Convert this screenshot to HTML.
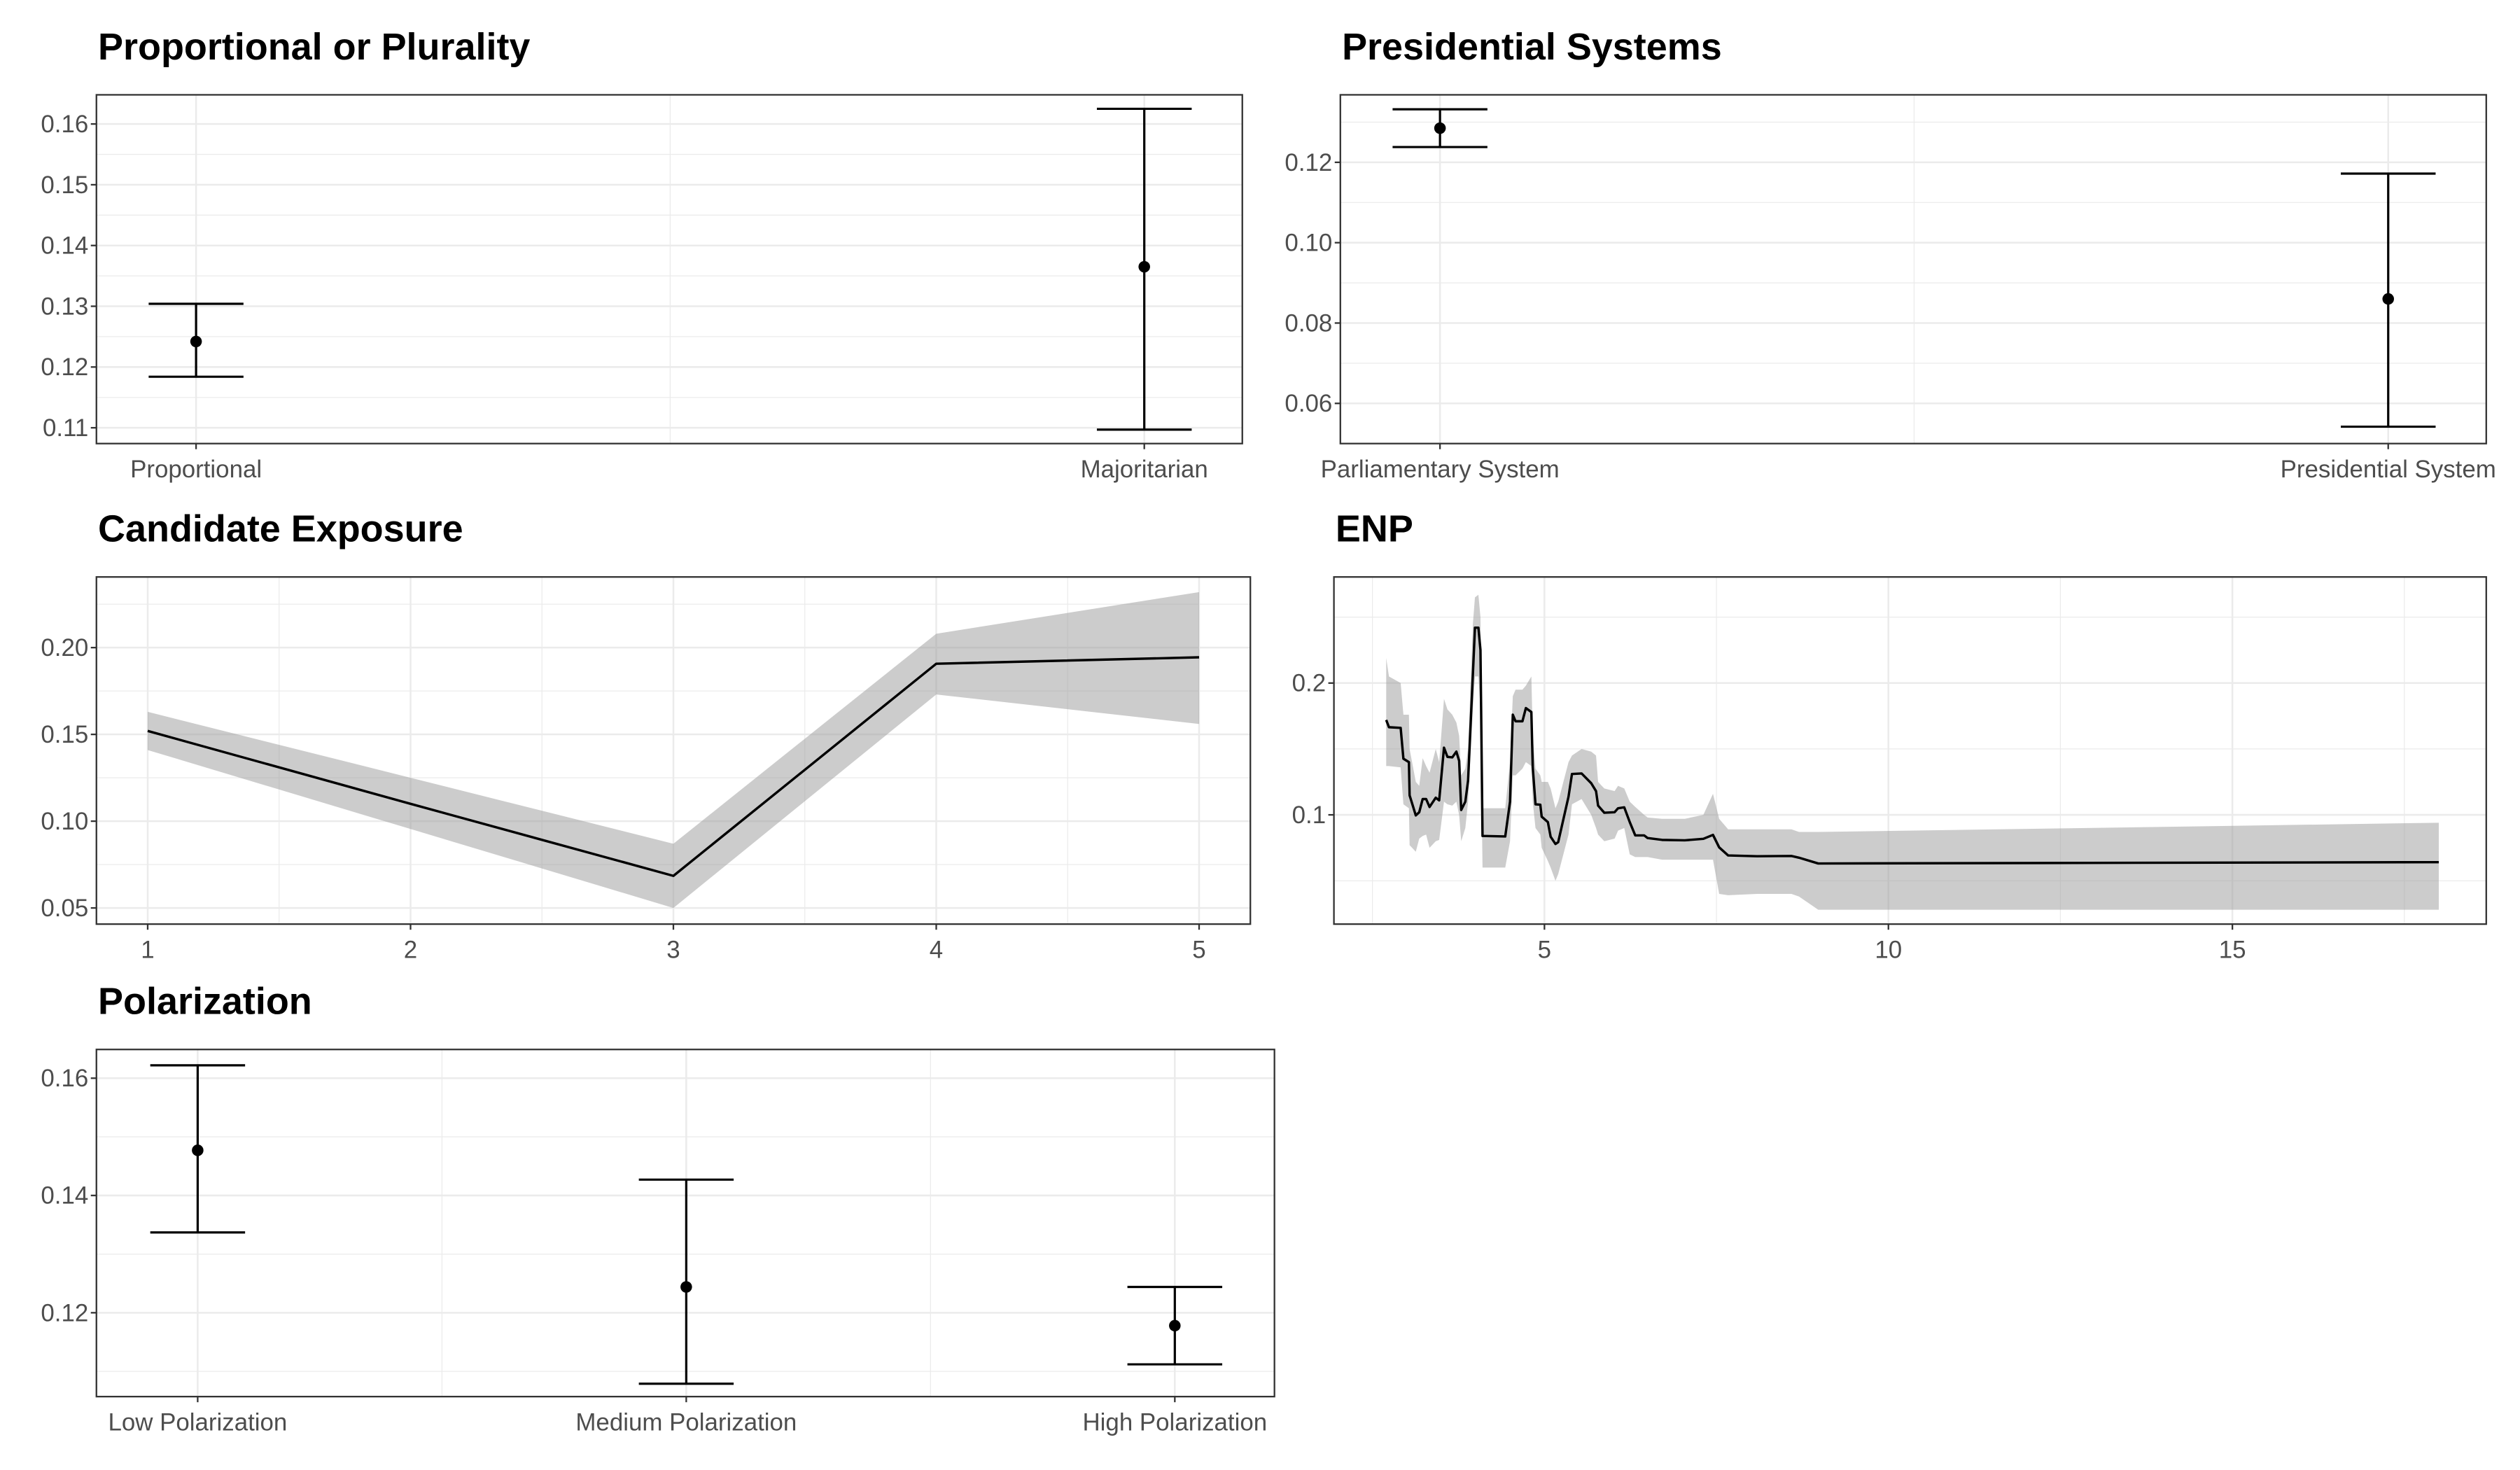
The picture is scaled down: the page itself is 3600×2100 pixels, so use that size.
<!DOCTYPE html>
<html><head><meta charset="utf-8"><style>
html,body{margin:0;padding:0;background:#fff;}
svg{display:block;}
text{font-family:"Liberation Sans",sans-serif;}
</style></head><body>
<svg id="chart" xmlns="http://www.w3.org/2000/svg" width="3600" height="2100" viewBox="0 0 1568 914.67" preserveAspectRatio="none">
<rect x="0" y="0" width="1568" height="914.67" fill="#fff"/>
</svg>
<script>
// ---- data ----
const propCats = ["Proportional", "Majoritarian"];
const propEst = [0.1242, 0.1365];
const propLo = [0.1184, 0.1097];
const propHi = [0.1304, 0.1625];
const propTicks = [0.11, 0.12, 0.13, 0.14, 0.15, 0.16];

const presCats = ["Parliamentary System", "Presidential System"];
const presEst = [0.1285, 0.0860];
const presLo = [0.1238, 0.0542];
const presHi = [0.1332, 0.1172];
const presTicks = [0.06, 0.08, 0.10, 0.12];

const candX = [1, 2, 3, 4, 5];
const candEst = [0.152, 0.110, 0.0685, 0.1907, 0.1944];
const candLo = [0.141, 0.0955, 0.050, 0.173, 0.156];
const candHi = [0.163, 0.125, 0.087, 0.208, 0.232];
const candXTicks = [1, 2, 3, 4, 5];
const candYTicks = [0.05, 0.10, 0.15, 0.20];

const enpX = [2.70,2.74,2.91,2.95,3.03,3.04,3.13,3.18,3.23,3.28,3.33,3.42,3.47,3.54,3.59,3.66,3.72,3.76,3.79,3.85,3.89,3.96,3.99,4.04,4.07,4.10,4.43,4.50,4.54,4.58,4.68,4.73,4.81,4.83,4.87,4.94,4.96,5.05,5.09,5.16,5.20,5.35,5.40,5.54,5.68,5.75,5.78,5.87,6.02,6.07,6.16,6.24,6.32,6.45,6.50,6.71,7.04,7.31,7.45,7.54,7.67,8.09,8.59,8.70,8.98,18.0];
const enpEst = [0.172,0.1665,0.166,0.1426,0.140,0.1148,0.0996,0.102,0.112,0.112,0.106,0.113,0.111,0.151,0.144,0.1436,0.148,0.141,0.1037,0.110,0.126,0.207,0.242,0.242,0.225,0.084,0.0836,0.110,0.176,0.171,0.171,0.181,0.178,0.136,0.108,0.1077,0.0986,0.0945,0.0834,0.0779,0.0793,0.1138,0.131,0.1314,0.124,0.118,0.107,0.1016,0.102,0.105,0.1057,0.0945,0.0844,0.0844,0.0824,0.081,0.0807,0.0818,0.0848,0.0753,0.0692,0.0686,0.0688,0.0675,0.0631,0.0641];
const enpLo = [0.137,0.137,0.136,0.108,0.105,0.077,0.072,0.082,0.084,0.085,0.075,0.080,0.081,0.110,0.108,0.107,0.110,0.100,0.080,0.090,0.110,0.180,0.205,0.205,0.180,0.060,0.060,0.080,0.130,0.130,0.135,0.140,0.137,0.110,0.090,0.085,0.075,0.065,0.060,0.050,0.055,0.085,0.108,0.112,0.100,0.090,0.085,0.080,0.082,0.088,0.090,0.070,0.068,0.068,0.068,0.066,0.066,0.066,0.066,0.040,0.039,0.040,0.040,0.038,0.028,0.028];
const enpHi = [0.219,0.205,0.200,0.176,0.176,0.150,0.125,0.122,0.143,0.137,0.132,0.150,0.140,0.188,0.180,0.176,0.170,0.160,0.130,0.135,0.150,0.245,0.265,0.267,0.250,0.105,0.105,0.140,0.190,0.195,0.195,0.198,0.205,0.160,0.135,0.130,0.125,0.125,0.120,0.105,0.110,0.140,0.145,0.150,0.148,0.145,0.125,0.120,0.118,0.122,0.120,0.110,0.106,0.100,0.098,0.097,0.097,0.100,0.116,0.097,0.089,0.089,0.089,0.087,0.087,0.094];
const enpXTicks = [5, 10, 15];
const enpYTicks = [0.1, 0.2];

const polCats = ["Low Polarization", "Medium Polarization", "High Polarization"];
const polEst = [0.1477, 0.1244, 0.1178];
const polLo = [0.1337, 0.1079, 0.1112];
const polHi = [0.1622, 0.1427, 0.1244];
const polTicks = [0.12, 0.14, 0.16];

// ---- drawing ----
const svg = document.getElementById('chart');
const NS = 'http://www.w3.org/2000/svg';
const TICK_FS = 15.2;
function mk(tag, attrs, parent) {
  const e = document.createElementNS(NS, tag);
  for (const k in attrs) e.setAttribute(k, attrs[k]);
  (parent || svg).appendChild(e);
  return e;
}
function scale(d0, d1, r0, r1) { return v => r0 + (v - d0) / (d1 - d0) * (r1 - r0); }

function panel(name, title, box, ydom, xdom) {
  const g = mk('g', {});
  
  
  const t = mk('text', {x: box.x0 + 1, y: box.y0 - 22, 'font-size': 23.5, 'font-weight': 'bold', fill: '#000'}, g);
  t.textContent = title;
  
  
  const bg = mk('rect', {x: box.x0, y: box.y0, width: box.x1 - box.x0, height: box.y1 - box.y0, fill: '#fff'}, g);
  
  
  const y = scale(ydom[0], ydom[1], box.y1, box.y0);
  const x = scale(xdom[0], xdom[1], box.x0, box.x1);
  return {g, x, y, box};
}
function hgrid(p, v, major) {
  const yy = p.y(v);
  const l = mk('line', {x1: p.box.x0, x2: p.box.x1, y1: yy, y2: yy, stroke: '#ebebeb', 'stroke-width': major ? 1.1 : 0.55}, p.g);
  
  
}
function vgrid(p, v, major) {
  const xx = p.x(v);
  const l = mk('line', {x1: xx, x2: xx, y1: p.box.y0, y2: p.box.y1, stroke: '#ebebeb', 'stroke-width': major ? 1.1 : 0.55}, p.g);
  
  
}
function ytick(p, v, label) {
  const yy = p.y(v);
  const l = mk('line', {x1: p.box.x0 - 3.5, x2: p.box.x0, y1: yy, y2: yy, stroke: '#333', 'stroke-width': 1}, p.g);
  
  
  const t = mk('text', {x: p.box.x0 - 5, y: yy + 5.2, 'font-size': TICK_FS, fill: '#4d4d4d', 'text-anchor': 'end'}, p.g);
  t.textContent = label;
  
  
}
function xtick(p, v, label) {
  const xx = p.x(v);
  const l = mk('line', {x1: xx, x2: xx, y1: p.box.y1, y2: p.box.y1 + 3.5, stroke: '#333', 'stroke-width': 1}, p.g);
  
  
  const t = mk('text', {x: xx, y: p.box.y1 + 21, 'font-size': TICK_FS, fill: '#4d4d4d', 'text-anchor': 'middle'}, p.g);
  t.textContent = label;
  
  
}
function border(p) {
  const r = mk('rect', {x: p.box.x0, y: p.box.y0, width: p.box.x1 - p.box.x0, height: p.box.y1 - p.box.y0, fill: 'none', stroke: '#333', 'stroke-width': 1}, p.g);
  
  
}
function fmt(v, d) { return v.toFixed(d); }

function catPanel(name, title, box, ydom, cats, est, lo, hi, ticks, dec, minorTicks) {
  const n = cats.length;
  // categories placed between first/last centre pixels box.c0..box.c1
  const unit = (box.c1 - box.c0) / (n - 1);
  const xdom = [1 - (box.c0 - box.x0) / unit, n + (box.x1 - box.c1) / unit];
  const p = panel(name, title, box, ydom, xdom);
  minorTicks.forEach(v => hgrid(p, v, false));
  for (let i = 1; i < n; i++) vgrid(p, i + 0.5, false);
  ticks.forEach(v => hgrid(p, v, true));
  cats.forEach((c, i) => vgrid(p, i + 1, true));
  cats.forEach((c, i) => {
    const xx = p.x(i + 1), hw = 29.5;
    const eg = mk('g', {}, p.g);
    
    
    mk('line', {x1: xx, x2: xx, y1: p.y(lo[i]), y2: p.y(hi[i]), stroke: '#000', 'stroke-width': 1.4}, eg);
    mk('line', {x1: xx - hw, x2: xx + hw, y1: p.y(lo[i]), y2: p.y(lo[i]), stroke: '#000', 'stroke-width': 1.4}, eg);
    mk('line', {x1: xx - hw, x2: xx + hw, y1: p.y(hi[i]), y2: p.y(hi[i]), stroke: '#000', 'stroke-width': 1.4}, eg);
    const pt = mk('circle', {cx: xx, cy: p.y(est[i]), r: 3.6, fill: '#000'}, p.g);
    
    
  });
  border(p);
  ticks.forEach(v => ytick(p, v, fmt(v, dec)));
  cats.forEach((c, i) => xtick(p, i + 1, c));
}

catPanel('proportional', 'Proportional or Plurality', {x0: 60, x1: 773, y0: 59, y1: 276, c0: 122, c1: 712}, [0.1074, 0.1648],
  propCats, propEst, propLo, propHi, propTicks, 2, [0.115, 0.125, 0.135, 0.145, 0.155]);
catPanel('presidential', 'Presidential Systems', {x0: 834, x1: 1547, y0: 59, y1: 276, c0: 896, c1: 1486}, [0.05, 0.1368],
  presCats, presEst, presLo, presHi, presTicks, 2, [0.05, 0.07, 0.09, 0.11, 0.13]);
catPanel('polarization', 'Polarization', {x0: 60, x1: 793, y0: 653, y1: 869, c0: 123, c1: 731}, [0.1057, 0.1649],
  polCats, polEst, polLo, polHi, polTicks, 2, [0.11, 0.13, 0.15]);

function contPanel(name, title, box, ydom, xdom, xs, est, lo, hi, xt, yt, xminor, yminor, xdec, ydec) {
  const p = panel(name, title, box, ydom, xdom);
  yminor.forEach(v => hgrid(p, v, false));
  xminor.forEach(v => vgrid(p, v, false));
  yt.forEach(v => hgrid(p, v, true));
  xt.forEach(v => vgrid(p, v, true));
  let d = '';
  xs.forEach((v, i) => { d += (i ? 'L' : 'M') + p.x(v).toFixed(2) + ',' + p.y(hi[i]).toFixed(2); });
  for (let i = xs.length - 1; i >= 0; i--) d += 'L' + p.x(xs[i]).toFixed(2) + ',' + p.y(lo[i]).toFixed(2);
  const band = mk('path', {d: d + 'Z', fill: '#999', 'fill-opacity': 0.5}, p.g);
  
  
  let dl = '';
  xs.forEach((v, i) => { dl += (i ? 'L' : 'M') + p.x(v).toFixed(2) + ',' + p.y(est[i]).toFixed(2); });
  const line = mk('path', {d: dl, fill: 'none', stroke: '#000', 'stroke-width': 1.5, 'stroke-linejoin': 'round'}, p.g);
  
  
  border(p);
  yt.forEach(v => ytick(p, v, fmt(v, ydec)));
  xt.forEach(v => xtick(p, v, fmt(v, xdec)));
}

contPanel('candidate-exposure', 'Candidate Exposure', {x0: 60, x1: 778, y0: 359, y1: 575}, [0.0407, 0.2407], [0.805, 5.195],
  candX, candEst, candLo, candHi, candXTicks, candYTicks, [1.5, 2.5, 3.5, 4.5], [0.075, 0.125, 0.175, 0.225], 0, 2);
contPanel('enp', 'ENP', {x0: 830, x1: 1547, y0: 359, y1: 575}, [0.0171, 0.2805], [1.94, 18.69],
  enpX, enpEst, enpLo, enpHi, enpXTicks, enpYTicks, [2.5, 7.5, 12.5, 17.5], [0.05, 0.15, 0.25], 0, 1);
</script>
</body></html>
